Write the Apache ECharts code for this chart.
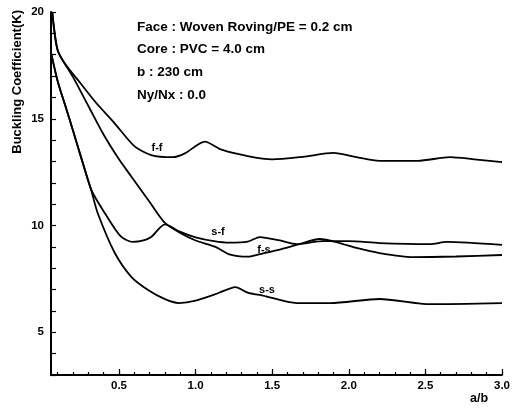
<!DOCTYPE html>
<html><head><meta charset="utf-8">
<script src="https://cdn.jsdelivr.net/npm/echarts@6/dist/echarts.min.js"></script>
<style>html,body{margin:0;padding:0;background:#fff}#c{width:522px;height:416px}</style>
</head><body><div id="c"></div>
<script>
// Curve data: [a/b, K]
const curveFF = [[0.065,19.95],[0.10,18.2],[0.15,17.55],[0.25,16.65],[0.35,15.75],[0.47,14.8],[0.60,13.72],[0.71,13.3],[0.85,13.2],[0.93,13.38],[1.06,13.93],[1.17,13.55],[1.34,13.25],[1.50,13.1],[1.70,13.22],[1.90,13.4],[2.05,13.2],[2.20,13.03],[2.45,13.03],[2.66,13.2],[2.82,13.1],[3.0,12.97]];
const curveFS = [[0.065,19.95],[0.10,18.2],[0.20,16.95],[0.30,15.6],[0.40,14.25],[0.50,13.1],[0.58,12.3],[0.70,11.1],[0.80,10.12],[0.90,9.65],[1.0,9.3],[1.13,9.0],[1.22,8.65],[1.34,8.54],[1.44,8.7],[1.56,8.9],[1.66,9.09],[1.81,9.37],[1.94,9.18],[2.05,8.95],[2.20,8.71],[2.42,8.52],[2.70,8.55],[3.0,8.62]];
const curveSF = [[0.056,18.1],[0.10,16.75],[0.15,15.6],[0.20,14.44],[0.25,13.25],[0.32,11.66],[0.41,10.55],[0.51,9.5],[0.59,9.23],[0.66,9.3],[0.71,9.46],[0.80,10.05],[0.90,9.7],[1.0,9.45],[1.12,9.27],[1.22,9.2],[1.34,9.25],[1.42,9.46],[1.55,9.3],[1.66,9.13],[1.83,9.27],[2.0,9.27],[2.2,9.18],[2.53,9.13],[2.64,9.23],[3.0,9.09]];
const curveSS = [[0.056,18.1],[0.10,16.75],[0.15,15.6],[0.20,14.44],[0.25,13.25],[0.32,11.62],[0.36,10.6],[0.47,8.75],[0.58,7.6],[0.69,6.98],[0.80,6.55],[0.89,6.37],[1.0,6.48],[1.15,6.84],[1.26,7.12],[1.34,6.86],[1.44,6.72],[1.66,6.37],[1.88,6.37],[2.2,6.56],[2.53,6.32],[3.0,6.37]];
const curveNames = ['f-f','f-s','s-f','s-s'];
const curveLabelAt = [[0.748,13.63],[1.446,8.85],[1.146,9.70],[1.466,6.98]];
const xMinorTicks = [0.1,0.2,0.3,0.4,0.5,0.6,0.7,0.8,0.9,1.0,1.1,1.2,1.3,1.4,1.5,1.6,1.7,1.8,1.9,2.0,2.1,2.2,2.3,2.4,2.5,2.6,2.7,2.8,2.9,3.0];
const xMajorTicks = [0.5,1.0,1.5,2.0,2.5,3.0];
const yLabelValues = [5,10,15,20];
const infoLines = ['Face : Woven Roving/PE = 0.2 cm','Core : PVC = 4.0 cm','b : 230 cm','Ny/Nx : 0.0'];

const FONT = '"Liberation Sans", Arial, sans-serif';
const chart = echarts.init(document.getElementById('c'), null, {renderer:'canvas'});
const curves = [curveFF, curveFS, curveSF, curveSS];
const series = curves.map((d,i)=>({
  type:'line', data:d, symbol:'none', smooth:0.25,
  lineStyle:{color:'#000', width:1.8},
  markPoint:{symbol:'circle', symbolSize:0, silent:true,
    data:[{coord:curveLabelAt[i], label:{show:true, position:'inside', formatter:curveNames[i], color:'#000', fontSize:11, fontWeight:'bold', fontFamily:FONT}}]}
}));
chart.setOption({
  animation:false,
  backgroundColor:'#fff',
  grid:{left:51, right:20, top:12, bottom:41},
  xAxis:[{
    type:'value', min:0.056, max:3.0,
    axisLine:{show:true, lineStyle:{color:'#000', width:2}},
    axisTick:{show:true, inside:true, length:3, customValues:xMinorTicks, lineStyle:{color:'#000', width:1.2}},
    axisLabel:{customValues:xMajorTicks, formatter:v=>v.toFixed(1), color:'#000', fontSize:11.5, fontWeight:'bold', fontFamily:FONT, margin:5},
    splitLine:{show:false}
  },{
    type:'value', min:0.056, max:3.0, position:'bottom',
    axisLine:{show:false},
    axisTick:{show:true, inside:true, length:6, customValues:xMajorTicks, lineStyle:{color:'#000', width:1.2}},
    axisLabel:{show:false}, splitLine:{show:false}
  }],
  yAxis:{
    type:'value', min:3, max:20, interval:1,
    axisLine:{show:true, lineStyle:{color:'#000', width:2}},
    axisTick:{show:true, inside:true, length:5, lineStyle:{color:'#000', width:1.2}},
    axisLabel:{formatter:v=>yLabelValues.includes(v)?String(v):'', color:'#000', fontSize:11.5, fontWeight:'bold', fontFamily:FONT, margin:7},
    splitLine:{show:false}
  },
  series:series,
  graphic:[
    {type:'text', left:11, top:10, rotation:Math.PI/2, originX:0, originY:0,
     style:{text:'Buckling Coefficient(K)', fill:'#000', font:'bold 13px '+FONT}},
    {type:'text', left:470, top:392, style:{text:'a/b', fill:'#000', font:'bold 12.5px '+FONT}},
    ...infoLines.map((t,i)=>({type:'text', left:137, top:20+i*22.7, style:{text:t, fill:'#000', font:'bold 13.5px '+FONT}}))
  ]
});
</script></body></html>
